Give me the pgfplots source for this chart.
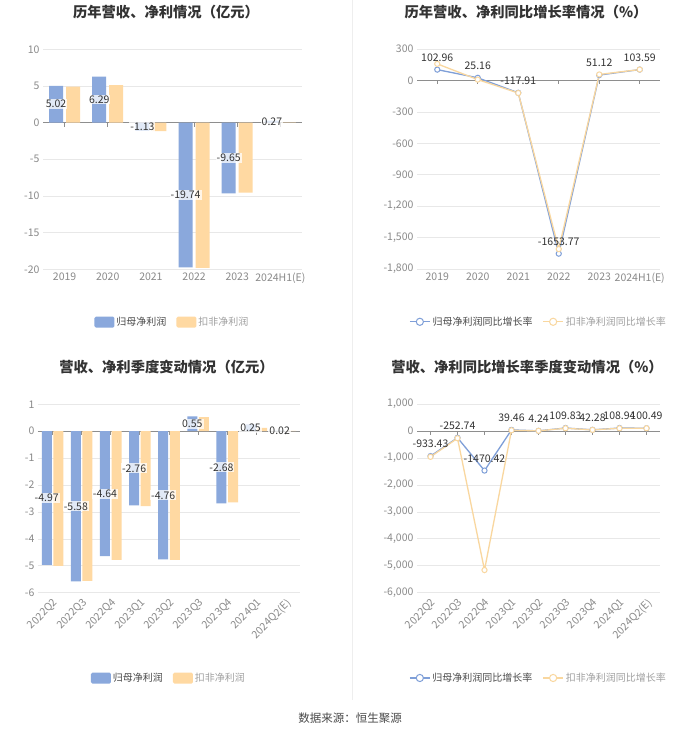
\documentclass[border=0pt]{standalone}
\usepackage{fontspec}
\setmainfont{Noto Sans CJK SC}
\usepackage{pgfplots}
\pgfplotsset{compat=1.18}
\usepackage{pgfplotstable}

\definecolor{barblue}{HTML}{8AA8DC}
\definecolor{barorange}{HTML}{FFD9A2}
\definecolor{lineblue}{HTML}{7F9FD8}
\definecolor{lineorange}{HTML}{F9D79F}
\definecolor{gridgray}{HTML}{E8E8E8}
\definecolor{zerogray}{HTML}{8E8E8E}
\definecolor{tickgray}{HTML}{8A8A8A}
\definecolor{labelgray}{HTML}{333333}
\definecolor{titlegray}{HTML}{333333}
\definecolor{legdark}{HTML}{4A4A4A}
\definecolor{leglight}{HTML}{A0A0A0}
\definecolor{divgray}{HTML}{EEEEEE}

\pgfplotstableread{
x b o lab
0 5.02 4.92 5.02
1 6.29 5.12 6.29
2 -1.13 -1.15 -1.13
3 -19.74 -19.80 -19.74
4 -9.65 -9.55 -9.65
5 0.27 0.05 0.27
}\annual

\pgfplotstableread{
x b o lab
0 102.96 158 102.96
1 25.16 8 25.16
2 -117.91 -120 -117.91
3 -1653.77 -1610 -1653.77
4 51.12 57 51.12
5 103.59 104 103.59
}\annualg

\pgfplotstableread{
x b o lab
0 -4.97 -5.00 -4.97
1 -5.58 -5.56 -5.58
2 -4.64 -4.78 -4.64
3 -2.76 -2.78 -2.76
4 -4.76 -4.78 -4.76
5 0.55 0.52 0.55
6 -2.68 -2.64 -2.68
7 0.25 0.12 0.25
8 0.02 0.01 0.02
}\quarter

\pgfplotstableread{
x b o lab
0 -933.43 -960 -933.43
1 -252.74 -270 -252.74
2 -1470.42 -5160 -1470.42
3 39.46 25 39.46
4 4.24 5 4.24
5 109.83 100 109.83
6 42.28 40 42.28
7 108.94 100 108.94
8 100.49 100 100.49
}\quarterg

\pgfplotsset{
  base/.style={
    scale only axis, enlargelimits=false, clip=false, anchor=south west,
    axis line style={draw=none}, tick style={draw=none},
    ymajorgrids, grid style={color=gridgray, line width=0.6pt},
    tick label style={font=\fontsize{10.5}{12}\selectfont, color=tickgray},
    /pgf/number format/assume math mode=true,
    legend style={draw=none, fill=none, legend columns=2, anchor=center,
      font=\fontsize{10}{12}\selectfont,
      /tikz/every even column/.append style={column sep=8pt}},
    legend cell align=left,
  },
  barlab/.style={forget plot, draw=none, mark=none, nodes near coords,
    point meta=explicit symbolic,
    every node near coord/.style={anchor=center, xshift=#1,
      font=\fontsize{10.5}{12}\selectfont, text=labelgray,
      fill=white, fill opacity=0.75, text opacity=1, inner sep=1pt}},
  linelab/.style={forget plot, draw=none, mark=none, nodes near coords,
    point meta=explicit symbolic,
    every node near coord/.style={anchor=center, yshift=12pt,
      font=\fontsize{10.5}{12}\selectfont, text=labelgray, inner sep=0pt}},
  lineser/.style={color=#1, line width=1.3pt, mark=*, mark size=2.6pt,
    mark options={fill=white, line width=1pt, solid},
    legend image code/.code={\draw[#1, line width=1.3pt] (0pt,0pt) -- (20pt,0pt);
      \draw[#1, line width=1pt, fill=white] (10pt,0pt) circle (3.6pt);}},
}

\begin{document}
\begin{tikzpicture}[x=1pt,y=1pt]
\useasboundingbox (0,0) rectangle (700,734);
\fill[white] (0,0) rectangle (700,734);
\draw[divgray, line width=0.8pt] (352,34) -- (352,734);

% ---------- top left ----------
\begin{axis}[base, at={(43pt,464.7pt)}, width=259pt, height=220pt,
  xmin=-0.5, xmax=5.5, ymin=-20, ymax=10, ytick={-20,-15,...,10},
  xtick={0,...,5}, xticklabels={2019,2020,2021,2022,2023,2024H1(E)},
  legend style={at={(0.5,-0.24)}}]
\draw[zerogray, line width=0.8pt] (axis cs:-0.5,0) -- (axis cs:5.5,0);
\pgfplotsinvokeforeach{0,...,5}{\draw[zerogray, line width=0.8pt] (axis cs:#1,0) -- ++(0pt,-4pt);}
\addplot[ybar, bar width=14pt, bar shift=-8.5pt, fill=barblue, draw=none,
  legend image code/.code={\fill[barblue, rounded corners=1.5pt] (0pt,-5.5pt) rectangle (20pt,5.5pt);}]
  table[x=x, y=b] {\annual};
\addlegendentry{\textcolor{legdark}{归母净利润}}
\addplot[ybar, bar width=14pt, bar shift=8.5pt, fill=barorange, draw=none,
  legend image code/.code={\fill[barorange, rounded corners=1.5pt] (0pt,-5.5pt) rectangle (20pt,5.5pt);}]
  table[x=x, y=o] {\annual};
\addlegendentry{\textcolor{leglight}{扣非净利润}}
\addplot[barlab=-8.5pt] table[x=x, y expr=\thisrow{b}/2, meta=lab] {\annual};
\end{axis}

% ---------- top right ----------
\begin{axis}[base, at={(417pt,465pt)}, width=243pt, height=220pt,
  xmin=-0.5, xmax=5.5, ymin=-1800, ymax=300, ytick={-1800,-1500,...,300},
  xtick={0,...,5}, xticklabels={2019,2020,2021,2022,2023,2024H1(E)},
  legend style={at={(0.5,-0.24)}}]
\draw[zerogray, line width=0.8pt] (axis cs:-0.5,0) -- (axis cs:5.5,0);
\pgfplotsinvokeforeach{0,...,5}{\draw[zerogray, line width=0.8pt] (axis cs:#1,0) -- ++(0pt,-4pt);}
\addplot[lineser=lineblue] table[x=x, y=b] {\annualg};
\addlegendentry{\textcolor{legdark}{归母净利润同比增长率}}
\addplot[lineser=lineorange] table[x=x, y=o] {\annualg};
\addlegendentry{\textcolor{leglight}{扣非净利润同比增长率}}
\addplot[linelab] table[x=x, y=b, meta=lab] {\annualg};
\end{axis}

% ---------- bottom left ----------
\begin{axis}[base, at={(38pt,141.3pt)}, width=262pt, height=188.4pt,
  xmin=-0.5, xmax=8.5, ymin=-6, ymax=1, ytick={-6,...,1},
  xtick={0,...,8}, xticklabels={2022Q2,2022Q3,2022Q4,2023Q1,2023Q2,2023Q3,2023Q4,2024Q1,2024Q2(E)},
  xticklabel style={rotate=45, anchor=north east},
  legend style={at={(0.5,-0.453)}}]
\draw[zerogray, line width=0.8pt] (axis cs:-0.5,0) -- (axis cs:8.5,0);
\pgfplotsinvokeforeach{0,...,8}{\draw[zerogray, line width=0.8pt] (axis cs:#1,0) -- ++(0pt,-4pt);}
\addplot[ybar, bar width=10pt, bar shift=-5.8pt, fill=barblue, draw=none,
  legend image code/.code={\fill[barblue, rounded corners=1.5pt] (0pt,-5.5pt) rectangle (20pt,5.5pt);}]
  table[x=x, y=b] {\quarter};
\addlegendentry{\textcolor{legdark}{归母净利润}}
\addplot[ybar, bar width=10pt, bar shift=5.8pt, fill=barorange, draw=none,
  legend image code/.code={\fill[barorange, rounded corners=1.5pt] (0pt,-5.5pt) rectangle (20pt,5.5pt);}]
  table[x=x, y=o] {\quarter};
\addlegendentry{\textcolor{leglight}{扣非净利润}}
\addplot[barlab=-5.8pt] table[x=x, y expr=\thisrow{b}/2, meta=lab] {\quarter};
\end{axis}

% ---------- bottom right ----------
\begin{axis}[base, at={(417pt,141.3pt)}, width=243pt, height=188.7pt,
  xmin=-0.5, xmax=8.5, ymin=-6000, ymax=1000, ytick={-6000,-5000,...,1000},
  xtick={0,...,8}, xticklabels={2022Q2,2022Q3,2022Q4,2023Q1,2023Q2,2023Q3,2023Q4,2024Q1,2024Q2(E)},
  xticklabel style={rotate=45, anchor=north east},
  legend style={at={(0.5,-0.452)}}]
\draw[zerogray, line width=0.8pt] (axis cs:-0.5,0) -- (axis cs:8.5,0);
\pgfplotsinvokeforeach{0,...,8}{\draw[zerogray, line width=0.8pt] (axis cs:#1,0) -- ++(0pt,-4pt);}
\addplot[lineser=lineblue] table[x=x, y=b] {\quarterg};
\addlegendentry{\textcolor{legdark}{归母净利润同比增长率}}
\addplot[lineser=lineorange] table[x=x, y=o] {\quarterg};
\addlegendentry{\textcolor{leglight}{扣非净利润同比增长率}}
\addplot[linelab] table[x=x, y=b, meta=lab] {\quarterg};
\end{axis}

% ---------- titles and footer ----------
\node[font=\fontsize{14.3}{17}\selectfont\bfseries, text=titlegray] at (166,721.5) {历年营收、净利情况（亿元）};
\node[font=\fontsize{14.3}{17}\selectfont\bfseries, text=titlegray] at (526,721.5) {历年营收、净利同比增长率情况（\%）};
\node[font=\fontsize{14.3}{17}\selectfont\bfseries, text=titlegray] at (166.5,367.3) {营收、净利季度变动情况（亿元）};
\node[font=\fontsize{14.3}{17}\selectfont\bfseries, text=titlegray] at (527,367.3) {营收、净利同比增长率季度变动情况（\%）};
\node[font=\fontsize{11.5}{14}\selectfont, text=legdark] at (350,16) {数据来源：恒生聚源};
\end{tikzpicture}
\end{document}
